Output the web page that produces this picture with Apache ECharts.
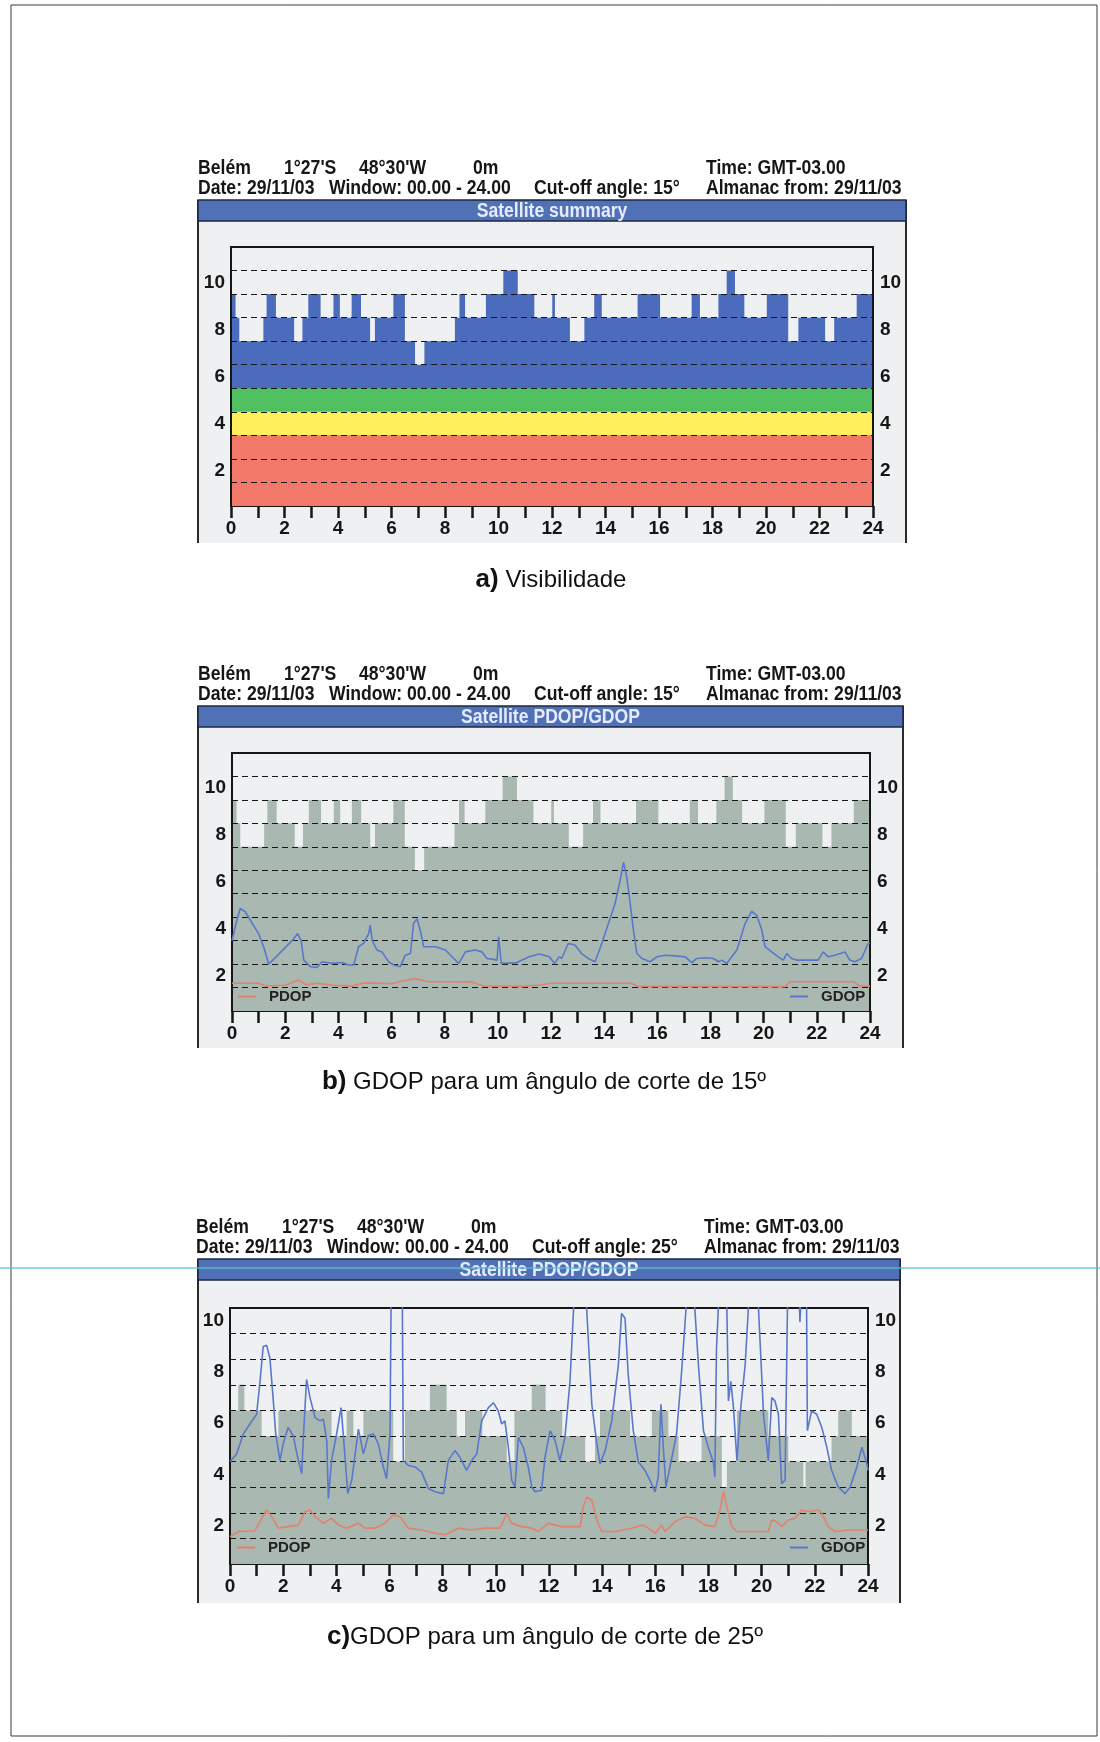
<!DOCTYPE html>
<html>
<head>
<meta charset="utf-8">
<script src="https://cdn.jsdelivr.net/npm/echarts@6/dist/echarts.min.js"></script>
<style>
html,body{margin:0;padding:0;background:#fff;}
#c{width:1100px;height:1742px;}
</style>
</head>
<body>
<div id="c"></div>
<script>
// ---------------- DATA ----------------
const hourTicks = [0, 2, 4, 6, 8, 10, 12, 14, 16, 18, 20, 22, 24];
const countLabels = [2, 4, 6, 8, 10];

// visible satellites, cut-off 15 deg : [hour where count starts, count]
const visible15 = [
  [0, 9], [0.17, 8], [0.31, 7], [1.21, 8], [1.33, 9], [1.68, 8], [2.36, 7], [2.67, 8], [2.89, 9],
  [3.35, 8], [3.83, 9], [4.07, 8], [4.51, 9], [4.86, 8], [5.2, 7], [5.38, 8], [6.07, 9], [6.5, 7],
  [6.88, 6], [7.23, 7], [8.37, 8], [8.54, 9], [8.75, 8], [9.53, 9], [10.18, 10], [10.72, 9],
  [11.34, 8], [12.01, 9], [12.11, 8], [12.67, 7], [13.21, 8], [13.58, 9], [13.86, 8], [15.2, 9],
  [16.04, 8], [17.22, 9], [17.53, 8], [18.22, 9], [18.53, 10], [18.84, 9], [19.19, 8], [20.03, 9],
  [20.83, 7], [21.21, 8], [22.21, 7], [22.55, 8], [23.39, 9], [24, 9]
];

// visible satellites, cut-off 25 deg
const visible25 = [
  [0, 6], [0.31, 7], [0.54, 6], [1.19, 5], [1.82, 6], [3.82, 5], [4.39, 6], [4.64, 5], [5.02, 6],
  [6.14, 4], [6.58, 6], [7.52, 7], [8.15, 6], [8.53, 5], [8.84, 6], [9.49, 5], [10.41, 4], [10.7, 6],
  [11.35, 7], [11.87, 6], [12.5, 5], [13.36, 4], [13.73, 5], [13.92, 6], [15.05, 5], [15.87, 6],
  [16.49, 5], [16.87, 4], [17.74, 5], [18.5, 3], [18.69, 4], [19.07, 6], [20.25, 5], [21.0, 4],
  [21.57, 3], [21.65, 4], [22.63, 5], [22.88, 6], [23.39, 5], [24, 5]
];

// quality bands of the satellite summary (count thresholds)
const bandRed = 3, bandYellow = 4, bandGreen = 5;

const gdop15 = [
  [0, 3.5], [0.15, 4.23], [0.31, 4.87], [0.5, 4.73], [0.69, 4.37], [1.0, 3.8], [1.19, 3.24], [1.38, 2.5],
  [1.66, 2.81], [1.97, 3.17], [2.28, 3.52], [2.47, 3.8], [2.6, 3.5], [2.7, 2.67], [2.95, 2.39], [3.2, 2.36],
  [3.39, 2.6], [3.76, 2.53], [4.14, 2.57], [4.39, 2.46], [4.58, 2.46], [4.76, 3.24], [4.95, 3.38], [5.14, 3.8],
  [5.2, 4.16], [5.27, 3.52], [5.45, 3.1], [5.64, 3.02], [5.89, 2.6], [6.08, 2.46], [6.33, 2.39], [6.52, 2.88],
  [6.71, 2.95], [6.83, 4.23], [6.96, 4.44], [7.08, 3.95], [7.21, 3.24], [7.65, 3.24], [8.03, 3.1], [8.34, 2.74],
  [8.53, 2.53], [8.78, 3.02], [9.15, 3.1], [9.4, 3.02], [9.59, 2.74], [9.84, 2.7], [9.97, 2.67], [10.03, 3.66],
  [10.13, 2.53], [10.68, 2.55], [11.18, 2.81], [11.56, 2.93], [11.94, 2.81], [12.13, 2.53], [12.31, 2.81],
  [12.4, 2.74], [12.65, 3.38], [12.9, 3.31], [13.15, 2.95], [13.4, 2.74], [13.66, 2.6], [13.91, 3.38],
  [14.16, 4.23], [14.41, 5.08], [14.6, 6.07], [14.73, 6.85], [14.85, 6.21], [14.98, 5.08], [15.1, 3.95],
  [15.23, 2.95], [15.42, 2.74], [15.73, 2.6], [15.98, 2.81], [16.3, 2.88], [16.67, 2.85], [17.05, 2.81],
  [17.3, 2.56], [17.48, 2.74], [17.8, 2.77], [18.11, 2.74], [18.3, 2.6], [18.42, 2.67], [18.61, 2.53],
  [18.8, 2.81], [18.99, 3.1], [19.11, 3.52], [19.3, 4.23], [19.55, 4.75], [19.74, 4.58], [19.93, 3.95],
  [20.05, 3.24], [20.3, 3.02], [20.55, 2.81], [20.74, 2.67], [20.87, 2.95], [21.05, 2.74], [21.24, 2.67],
  [21.68, 2.67], [22.05, 2.67], [22.24, 3.02], [22.43, 2.81], [22.68, 2.88], [23.06, 3.02], [23.24, 2.67],
  [23.43, 2.6], [23.68, 2.74], [23.93, 3.38], [24, 3.38]
];

const pdop15 = [
  [0, 1.68], [1.0, 1.68], [1.3, 1.56], [2.0, 1.6], [2.5, 1.82], [2.8, 1.62], [3.2, 1.68], [3.8, 1.6],
  [4.5, 1.56], [5.0, 1.7], [6.0, 1.66], [6.5, 1.8], [6.9, 1.88], [7.4, 1.75], [9.0, 1.74], [9.5, 1.56],
  [11.0, 1.55], [11.5, 1.6], [12.0, 1.68], [15.0, 1.68], [15.3, 1.55], [20.8, 1.54], [21.0, 1.75],
  [23.4, 1.75], [23.6, 1.56], [24, 1.56]
];

const gdop25 = [
  [0, 4.5], [0.25, 4.8], [0.5, 5.58], [0.75, 5.97], [1.0, 6.35], [1.13, 7.64], [1.25, 9.0], [1.38, 9.04],
  [1.5, 8.55], [1.63, 6.87], [1.72, 5.58], [1.88, 4.54], [2.0, 5.19], [2.19, 5.84], [2.38, 5.51], [2.57, 4.54],
  [2.7, 4.03], [2.76, 5.45], [2.88, 7.71], [3.01, 7.0], [3.2, 6.22], [3.39, 6.09], [3.51, 6.16], [3.64, 5.32],
  [3.7, 3.06], [3.82, 4.54], [4.01, 5.58], [4.18, 6.61], [4.26, 5.58], [4.43, 3.25], [4.58, 3.77], [4.83, 5.77],
  [5.02, 4.8], [5.2, 5.51], [5.39, 5.58], [5.58, 5.19], [5.77, 4.29], [5.89, 3.83], [6.02, 5.58], [6.1, 16],
  [6.45, 16], [6.52, 4.54], [6.71, 4.35], [6.96, 4.29], [7.21, 4.09], [7.46, 3.45], [7.71, 3.32], [8.03, 3.25],
  [8.21, 4.54], [8.46, 4.93], [8.65, 4.67], [8.9, 4.16], [9.09, 4.54], [9.28, 4.8], [9.47, 6.09], [9.72, 6.61],
  [9.91, 6.8], [10.09, 6.48], [10.22, 5.97], [10.34, 6.09], [10.47, 5.06], [10.6, 3.77], [10.72, 3.51],
  [10.85, 5.45], [11.03, 5.06], [11.22, 4.29], [11.35, 3.51], [11.47, 3.32], [11.72, 3.38], [11.85, 4.67],
  [12.04, 5.71], [12.23, 5.32], [12.41, 4.54], [12.6, 5.45], [12.79, 7.64], [12.92, 10.36], [13.1, 14],
  [13.3, 14], [13.42, 10.4], [13.61, 6.74], [13.8, 5.19], [13.92, 4.41], [14.11, 4.93], [14.36, 6.09],
  [14.61, 8.29], [14.73, 10.29], [14.86, 10.1], [14.98, 7.9], [15.17, 5.71], [15.36, 4.48], [15.61, 4.16],
  [15.8, 3.77], [15.99, 3.32], [16.11, 3.9], [16.21, 6.74], [16.3, 5.06], [16.4, 3.51], [16.55, 4.29],
  [16.8, 5.58], [16.99, 8.03], [17.15, 10.4], [17.3, 13], [17.49, 10.4], [17.62, 8.29], [17.81, 5.71],
  [17.99, 5.06], [18.18, 4.48], [18.24, 3.9], [18.3, 8.9], [18.37, 10.5], [18.5, 14], [18.69, 10.5],
  [18.75, 6.87], [18.84, 7.64], [18.94, 6.61], [19.07, 4.54], [19.19, 6.35], [19.38, 8.29], [19.5, 10.5],
  [19.7, 14], [19.88, 10.5], [20.07, 6.35], [20.25, 4.54], [20.38, 7.0], [20.5, 6.87], [20.63, 6.35],
  [20.75, 3.64], [20.88, 3.77], [20.97, 10.5], [21.2, 14], [21.42, 10.6], [21.44, 9.95], [21.47, 10.6],
  [21.6, 14], [21.69, 10.5], [21.72, 5.71], [21.88, 6.48], [22.07, 6.35], [22.26, 5.84], [22.45, 5.06],
  [22.63, 4.16], [22.88, 3.51], [23.14, 3.25], [23.33, 3.51], [23.58, 4.29], [23.77, 5.06], [23.96, 4.41],
  [24, 4.16]
];

const pdop25 = [
  [0, 1.57], [0.31, 1.77], [0.94, 1.8], [1.19, 2.28], [1.38, 2.61], [1.57, 2.35], [1.82, 1.9], [2.19, 1.96],
  [2.57, 2.02], [2.82, 2.54], [3.01, 2.61], [3.2, 2.35], [3.51, 2.09], [3.82, 2.28], [4.08, 2.02], [4.39, 1.9],
  [4.83, 2.09], [5.08, 1.9], [5.45, 1.9], [5.83, 2.09], [6.14, 2.41], [6.39, 2.35], [6.71, 1.9], [7.21, 1.83],
  [7.71, 1.7], [8.09, 1.64], [8.59, 1.9], [9.09, 1.83], [9.59, 1.9], [10.16, 1.9], [10.41, 2.48], [10.6, 2.09],
  [10.97, 1.96], [11.35, 1.9], [11.6, 1.77], [11.97, 2.09], [12.48, 1.96], [13.17, 1.96], [13.29, 2.74],
  [13.42, 3.12], [13.61, 2.99], [13.8, 2.22], [13.98, 1.77], [14.48, 1.77], [15.11, 1.9], [15.55, 2.02],
  [15.74, 1.9], [15.99, 1.7], [16.24, 2.02], [16.36, 1.77], [16.74, 2.15], [17.12, 2.35], [17.49, 2.28],
  [17.87, 2.02], [18.24, 1.96], [18.43, 2.61], [18.56, 3.32], [18.69, 2.74], [18.88, 1.96], [19.07, 1.77],
  [20.25, 1.77], [20.38, 2.22], [20.57, 2.15], [20.75, 1.96], [21.0, 2.22], [21.25, 2.28], [21.5, 2.61],
  [21.75, 2.54], [22.13, 2.61], [22.26, 2.48], [22.51, 1.96], [22.76, 1.77], [23.26, 1.83], [24, 1.83]
];

// texts
const headerLine1 = ['Belém', "1°27'S", "48°30'W", '0m', 'Time: GMT-03.00'];
const headerDate = 'Date: 29/11/03';
const headerWindow = 'Window: 00.00 - 24.00';
const cutoffAngles = [15, 15, 25];
const headerAlmanac = 'Almanac from: 29/11/03';
const panelTitles = ['Satellite summary', 'Satellite PDOP/GDOP', 'Satellite PDOP/GDOP'];
const captionLabels = ['a)', 'b)', 'c)'];
const captionTexts = [' Visibilidade', ' GDOP para um ângulo de corte de 15º', 'GDOP para um ângulo de corte de 25º'];

// ---------------- LAYOUT / STYLE ----------------
const SANS = '"Liberation Sans", Arial, Helvetica, sans-serif';
const INK = '#161616';
const PLOT_BG = '#eef0f2';
const FRAME_BG = '#eef0f2';
const BAR_BLUE = '#5171b7';
const VIS_BLUE = '#4b6cbd';
const VIS_GRAY = '#a9b8b0';
const RED = '#f2796a', YELLOW = '#fdf05c', GREEN = '#50c060';
const GDOP_C = '#5a78cb', PDOP_C = '#e5806c';
const NARROW_SCALE = 0.88;

const panels = [
  {grid: {left: 231, top: 247, width: 642, height: 259}, yMax: 11, frame: {l: 198, r: 906, t: 200, b: 543}, headY: 168, headDx: 0},
  {grid: {left: 232, top: 753, width: 638, height: 258}, yMax: 11, frame: {l: 198, r: 903, t: 706, b: 1048}, headY: 674, headDx: 0},
  {grid: {left: 230, top: 1308, width: 638, height: 256}, yMax: 10, frame: {l: 198, r: 900, t: 1259, b: 1603}, headY: 1227, headDx: -2}
];
const captionPos = [{x: 551, y: 580}, {x: 544, y: 1082}, {x: 545, y: 1637}];
const line1X = [198, 284, 359, 473, 706];
const line2X = [198, 329, 534, 706];

const chart = echarts.init(document.getElementById('c'), null, {renderer: 'canvas'});

const grids = [], xAxes = [], yAxes = [], series = [], graphics = [], legends = [];

const narrowText = (text, x, y, size, fill, align) => ({
  type: 'text', z: 60, x, y, scaleX: NARROW_SCALE,
  style: {text, fill, fontFamily: SANS, fontSize: size, fontWeight: 'bold', align: align || 'left', verticalAlign: 'middle'}
});

panels.forEach((p, i) => {
  grids.push(Object.assign({show: true, backgroundColor: PLOT_BG, borderColor: INK, borderWidth: 2}, p.grid));
  xAxes.push({
    type: 'value', gridIndex: i, min: 0, max: 24, interval: 1,
    axisLine: {show: true, onZero: false, lineStyle: {color: INK, width: 2}},
    axisTick: {show: true, length: 12, lineStyle: {color: INK, width: 2.5}},
    axisLabel: {margin: 13, color: INK, fontFamily: SANS, fontWeight: 'bold', fontSize: 19,
      formatter: v => hourTicks.indexOf(v) >= 0 ? String(v) : ''},
    splitLine: {show: false}
  });
  // count axis (bands / gridlines)
  yAxes.push({
    type: 'value', gridIndex: i, min: 0, max: p.yMax, interval: 1, position: 'left', z: 6,
    axisLine: {show: true, lineStyle: {color: INK, width: 2}},
    axisTick: {show: false}, axisLabel: {show: false},
    splitLine: {show: true, showMinLine: false, showMaxLine: false, lineStyle: {color: INK, type: [6, 4], width: 1.2}}
  });
  const labelAxis = (pos) => ({
    type: 'value', gridIndex: i, min: 0.5, max: p.yMax + 0.5, interval: 0.5, position: pos, z: 6,
    axisLine: {show: pos === 'right', lineStyle: {color: INK, width: 2}},
    axisTick: {show: false}, splitLine: {show: false},
    axisLabel: {margin: pos === 'right' ? 7 : 6, color: INK, fontFamily: SANS, fontWeight: 'bold', fontSize: 19,
      formatter: v => countLabels.indexOf(v) >= 0 ? String(v) : ''}
  });
  yAxes.push(labelAxis('left'));
  yAxes.push(labelAxis('right'));

  // frame graphics
  const f = p.frame;
  graphics.push({type: 'rect', z: -5, shape: {x: f.l, y: f.t, width: f.r - f.l, height: f.b - f.t}, style: {fill: FRAME_BG}});
  graphics.push({type: 'line', z: 50, shape: {x1: f.l, y1: f.t, x2: f.l, y2: f.b}, style: {stroke: '#2a2a2a', lineWidth: 2}});
  graphics.push({type: 'line', z: 50, shape: {x1: f.r, y1: f.t, x2: f.r, y2: f.b}, style: {stroke: '#2a2a2a', lineWidth: 2}});
  graphics.push({type: 'rect', z: 50, shape: {x: f.l, y: f.t, width: f.r - f.l, height: 21}, style: {fill: BAR_BLUE, stroke: '#1d2744', lineWidth: 1.5}});
  graphics.push(narrowText(panelTitles[i], (f.l + f.r) / 2, f.t + 11, 20, '#e6ecff', 'center'));
  // header lines
  headerLine1.forEach((t, k) => graphics.push(narrowText(t, line1X[k] + p.headDx, p.headY, 20, INK)));
  const line2 = [headerDate, headerWindow, 'Cut-off angle: ' + cutoffAngles[i] + '°', headerAlmanac];
  line2.forEach((t, k) => graphics.push(narrowText(t, line2X[k] + p.headDx, p.headY + 20, 20, INK)));
  // caption
  graphics.push({type: 'text', z: 60, x: captionPos[i].x, y: captionPos[i].y,
    style: {text: '{b|' + captionLabels[i] + '}{t|' + captionTexts[i] + '}', align: 'center', verticalAlign: 'middle',
      rich: {b: {fontFamily: SANS, fontWeight: 'bold', fontSize: 26, fill: '#111'}, t: {fontFamily: SANS, fontSize: 24, fill: '#111'}}}});
});

// page border and scanner line
graphics.push({type: 'rect', z: 70, shape: {x: 11, y: 5, width: 1086, height: 1731}, style: {fill: null, stroke: '#3a3a3a', lineWidth: 1}});
graphics.push({type: 'line', z: 70, shape: {x1: 0, y1: 1268, x2: 1100, y2: 1268}, style: {stroke: '#56c3c8', lineWidth: 1.5, opacity: 0.85}});

// ---- series ----
const stepArea = (name, data, color, xi, yi, z) => ({
  name, type: 'line', step: 'end', data, xAxisIndex: xi, yAxisIndex: yi, z,
  showSymbol: false, symbol: 'none', lineStyle: {width: 0}, areaStyle: {color, opacity: 1}, silent: true
});
const band = (name, level, color, z) => ({
  name, type: 'line', data: [[0, level], [24, level]], xAxisIndex: 0, yAxisIndex: 0, z,
  symbol: 'none', lineStyle: {width: 0}, areaStyle: {color, opacity: 1}, silent: true
});
const dopLine = (name, data, color, xi, yi) => ({
  name, type: 'line', data, xAxisIndex: xi, yAxisIndex: yi, z: 10, clip: true,
  symbol: 'none', color: color, itemStyle: {color}, lineStyle: {color, width: 1.6}
});

series.push(stepArea('vis15a', visible15, VIS_BLUE, 0, 0, 2));
series.push(band('green', bandGreen, GREEN, 3));
series.push(band('yellow', bandYellow, YELLOW, 4));
series.push(band('red', bandRed, RED, 5));

series.push(stepArea('vis15b', visible15, VIS_GRAY, 1, 3, 2));
series.push(dopLine('PDOP', pdop15, PDOP_C, 1, 4));
series.push(dopLine('GDOP', gdop15, GDOP_C, 1, 4));

series.push(stepArea('vis25', visible25, VIS_GRAY, 2, 6, 2));
series.push(dopLine('PDOP', pdop25, PDOP_C, 2, 7));
series.push(dopLine('GDOP', gdop25, GDOP_C, 2, 7));

const legendBase = (name, left, top) => ({
  data: [name], left, top, icon: 'rect', itemWidth: 18, itemHeight: 2, selectedMode: false, padding: 0,
  textStyle: {color: '#222', fontFamily: SANS, fontWeight: 'bold', fontSize: 15, padding: [0, 0, 0, 8]}
});
legends.push(legendBase('PDOP', 238, 989));
legends.push(legendBase('GDOP', 790, 989));
legends.push(legendBase('PDOP', 237, 1540));
legends.push(legendBase('GDOP', 790, 1540));

chart.setOption({
  animation: false,
  backgroundColor: '#ffffff',
  grid: grids, xAxis: xAxes, yAxis: yAxes, series, legend: legends,
  graphic: {elements: graphics}
});
</script>
</body>
</html>
